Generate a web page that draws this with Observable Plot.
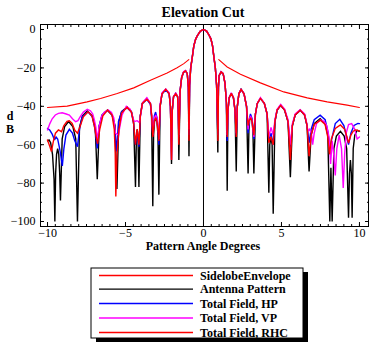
<!DOCTYPE html>
<html><head><meta charset="utf-8">
<script src="https://cdn.jsdelivr.net/npm/d3@7"></script>
<script src="https://cdn.jsdelivr.net/npm/@observablehq/plot@0.6"></script>
<style>
html,body{margin:0;padding:0;background:#fff;}
#chart{width:386px;height:355px;overflow:hidden;}
</style>
</head><body><div id="chart"></div>
<script>
// ---------- texts & ticks ----------
const chartTitle = "Elevation Cut";
const xLabel = "Pattern Angle Degrees";
const yLabelLines = ["d", "B"];
const xMajor = [-10, -5, 0, 5, 10];
const xMinor = [-10,-9.5,-9,-8.5,-8,-7.5,-7,-6.5,-6,-5.5,-5,-4.5,-4,-3.5,-3,-2.5,-2,-1.5,-1,-0.5,0,0.5,1,1.5,2,2.5,3,3.5,4,4.5,5,5.5,6,6.5,7,7.5,8,8.5,9,9.5,10];
const yMajor = [-100, -80, -60, -40, -20, 0];
const yMinor = [-100,-95,-90,-85,-80,-75,-70,-65,-60,-55,-50,-45,-40,-35,-30,-25,-20,-15,-10,-5,0];
const legendNames = ["SidelobeEnvelope", "Antenna Pattern", "Total Field, HP", "Total Field, VP", "Total Field, RHC"];
const seriesColors = ["#ff0000", "#000000", "#0000ff", "#ff00ff", "#ff0000"];

// ---------- data: [angle (deg), level (dB)] ----------
const sidelobeEnvelope = [
  [-10.0,-40.6],[-8.74,-39.9],[-7.46,-37.7],[-6.6,-35.9],[-5.53,-33.3],[-4.47,-30.4],[-3.4,-26.4],
  [-2.33,-22.6],[-1.69,-19.9],[-1.26,-17.8],[-0.94,-15.7],
  [0, NaN],
  [0.98,-15.7],[1.52,-19.5],[2.37,-23.3],[3.65,-27.8],[5.15,-32.5],[6.65,-35.6],[7.93,-37.7],
  [9.21,-39.4],[10.0,-40.6]
];

const antennaPattern = [
  [-10.0,-58],[-9.9,-57.5],[-9.8,-59],[-9.68,-65],[-9.58,-78],[-9.53,-100],
  [-9.48,-75],[-9.42,-65],[-9.35,-62],[-9.28,-65],[-9.22,-75],[-9.17,-89],
  [-9.06,-57],[-8.9,-50.5],[-8.65,-48],[-8.38,-50.5],[-8.19,-57],[-8.08,-100],
  [-7.95,-51],[-7.76,-45],[-7.45,-42.5],[-7.13,-45],[-6.94,-51],[-6.81,-78],
  [-6.68,-50],[-6.49,-44.5],[-6.17,-42],[-5.86,-44.5],[-5.67,-50],[-5.55,-83],
  [-5.43,-48],[-5.25,-42.8],[-4.9,-40.3],[-4.62,-42.8],[-4.48,-48],[-4.36,-82],
  [-4.3,-56],[-4.25,-52],[-4.2,-56],[-4.14,-82],
  [-4.05,-45],[-3.92,-38.5],[-3.63,-36],[-3.4,-38.5],[-3.33,-45],[-3.25,-92],
  [-3.2,-55],[-3.14,-48],[-3.06,-46],[-2.98,-48],[-2.92,-55],[-2.86,-86],
  [-2.78,-40],[-2.66,-33.5],[-2.42,-31.2],[-2.2,-33.5],[-2.12,-40],[-2.05,-70],
  [-2.0,-42],[-1.92,-35],[-1.78,-33.5],[-1.66,-35],[-1.62,-42],[-1.58,-68],
  [-1.5,-32],[-1.4,-25],[-1.28,-22.3],[-1.15,-21.5],[-1.04,-23],[-0.97,-30],[-0.93,-66],
  [-0.89,-29],[-0.82,-20],[-0.72,-14.5],[-0.62,-8.5],[-0.5,-5],[-0.38,-3],[-0.2,-0.8],[0,0],
  [0.2,-0.8],[0.36,-3],[0.48,-5],[0.58,-8.5],[0.67,-14.5],[0.76,-20],[0.84,-29],[0.92,-64],
  [0.96,-30],[1.0,-24],[1.13,-22.1],[1.26,-23],[1.38,-28],[1.47,-38],[1.52,-84],
  [1.57,-42],[1.65,-35.5],[1.78,-33.3],[1.92,-35.5],[2.02,-42],[2.1,-74],
  [2.17,-40],[2.27,-33.5],[2.41,-31.2],[2.6,-33.5],[2.76,-40],[2.86,-75],
  [2.91,-53],[2.96,-47],[3.03,-45],[3.1,-47],[3.17,-53],[3.23,-75],
  [3.33,-44],[3.45,-38.5],[3.65,-35.9],[3.9,-38.5],[4.08,-44],[4.19,-85],
  [4.25,-60],[4.33,-56],[4.4,-60],[4.47,-96],
  [4.58,-48],[4.72,-42],[4.95,-39.5],[5.2,-42],[5.42,-48],[5.57,-77],
  [5.7,-50],[5.88,-44.5],[6.2,-42],[6.48,-44.5],[6.64,-50],[6.77,-74],
  [6.9,-55],[7.1,-49],[7.48,-46.5],[7.8,-49],[7.97,-55],[8.1,-100],
  [8.17,-72],[8.25,-100],
  [8.36,-62],[8.52,-55.5],[8.78,-53],[9.02,-55.5],[9.18,-62],[9.3,-98],
  [9.36,-75],[9.42,-68],[9.48,-75],[9.53,-98],
  [9.6,-62],[9.7,-55],[9.85,-52.5],[10.0,-53]
];

const totalFieldHP = [
  [-10.0,-51.5],[-9.85,-52.5],[-9.7,-54.5],[-9.55,-57.5],[-9.45,-56],[-9.35,-57],[-9.2,-63],[-9.05,-71],
  [-8.95,-62],[-8.82,-55],[-8.6,-52],[-8.4,-54],[-8.25,-58],[-8.08,-61],
  [-7.95,-52],[-7.78,-45.5],[-7.4,-42.8],[-7.13,-45.5],[-6.95,-52],[-6.81,-62],
  [-6.68,-50],[-6.49,-44.5],[-6.15,-42],[-5.86,-44.5],[-5.7,-50],[-5.57,-63.5],
  [-5.45,-48],[-5.25,-42.8],[-4.9,-40.8],[-4.62,-43],[-4.48,-49],[-4.36,-60],
  [-4.25,-53],[-4.14,-61],
  [-4.05,-45],[-3.92,-38.5],[-3.63,-36.5],[-3.4,-39],[-3.32,-46],[-3.25,-55],
  [-3.15,-45],[-3.07,-43],[-2.98,-46],[-2.9,-54],[-2.86,-60],
  [-2.78,-40],[-2.66,-33.5],[-2.42,-31.5],[-2.2,-33.5],[-2.12,-40],[-2.05,-58],
  [-2.0,-42],[-1.92,-35],[-1.78,-33.3],[-1.66,-35],[-1.62,-42],[-1.58,-56],
  [-1.5,-32],[-1.4,-25],[-1.28,-22.3],[-1.15,-21.6],[-1.04,-23],[-0.97,-30],[-0.93,-55],
  [-0.89,-29],[-0.82,-20],[-0.72,-14.5],[-0.62,-8.5],[-0.5,-5],[-0.38,-3],[-0.2,-0.8],[0,0],
  [0.2,-0.8],[0.36,-3],[0.48,-5],[0.58,-8.5],[0.67,-14.5],[0.76,-20],[0.84,-29],[0.92,-55],
  [0.96,-30],[1.0,-24],[1.13,-22.1],[1.26,-23],[1.38,-28],[1.47,-38],[1.52,-58],
  [1.57,-42],[1.65,-35.5],[1.78,-33.3],[1.92,-35.5],[2.02,-42],[2.1,-55],
  [2.17,-40],[2.27,-33.5],[2.41,-31.2],[2.6,-33.5],[2.76,-40],[2.86,-54],
  [2.93,-47],[3.01,-44],[3.1,-46],[3.17,-50],[3.23,-57],
  [3.33,-44],[3.45,-38.5],[3.65,-35.9],[3.9,-38.5],[4.08,-44],[4.19,-58],
  [4.33,-54],[4.47,-60],
  [4.58,-48],[4.72,-42],[4.95,-39.5],[5.2,-42],[5.42,-48],[5.57,-62.7],
  [5.7,-50],[5.88,-44.5],[6.2,-42],[6.48,-44.5],[6.64,-50],[6.77,-59],
  [6.9,-52],[7.1,-47],[7.48,-44.6],[7.8,-47],[7.97,-53],[8.1,-61.8],
  [8.25,-56],[8.45,-49],[8.74,-46.8],[9.0,-50],[9.18,-56],[9.3,-60],
  [9.45,-54],[9.65,-50],[9.9,-48.9],[10.0,-49]
];

const totalFieldVP = [
  [-10.0,-52.3],[-9.85,-49],[-9.7,-46.5],[-9.5,-44.5],[-9.3,-43.7],[-9.06,-43.4],[-8.8,-44],[-8.6,-44.6],
  [-8.4,-46.5],[-8.2,-48],[-8.05,-47.5],[-7.9,-45.4],[-7.7,-43],[-7.45,-41.6],[-7.25,-42.3],[-7.1,-44],
  [-7.0,-47],[-6.9,-51],[-6.8,-57.5],[-6.7,-51],[-6.55,-45.5],[-6.35,-43],[-6.1,-42],[-5.9,-43.2],
  [-5.75,-46],[-5.65,-54],[-5.45,-55],[-5.35,-50],[-5.22,-44.5],[-4.95,-40],[-4.7,-41.5],[-4.55,-45],
  [-4.45,-48],[-4.25,-47.5],[-4.1,-48.5],[-4.0,-43],[-3.9,-38],[-3.63,-35.5],[-3.4,-38.5],[-3.32,-45],
  [-3.25,-55],[-3.15,-46],[-3.06,-44.5],[-2.98,-46],[-2.9,-53],[-2.86,-57],[-2.78,-39],[-2.66,-33],
  [-2.42,-31],[-2.2,-33],[-2.12,-40],[-2.05,-68],[-2.0,-42],[-1.92,-35],[-1.78,-33],[-1.66,-35],
  [-1.62,-42],[-1.58,-55],[-1.5,-32],[-1.4,-25],[-1.28,-22],[-1.15,-21.3],[-1.04,-23],[-0.97,-30],[-0.93,-52],
  [-0.89,-29],[-0.82,-20],[-0.72,-14.5],[-0.62,-8.5],[-0.5,-5],[-0.38,-3],[-0.2,-0.8],[0,0],
  [0.2,-0.8],[0.36,-3],[0.48,-5],[0.58,-8.5],[0.67,-14.5],[0.76,-20],[0.84,-29],[0.92,-52],
  [0.96,-30],[1.0,-24],[1.13,-22],[1.26,-23],[1.38,-28],[1.47,-38],[1.52,-55],[1.57,-42],[1.65,-35.5],
  [1.78,-33],[1.92,-35.5],[2.02,-42],[2.1,-54],[2.17,-40],[2.27,-33.5],[2.41,-31],[2.6,-33.5],[2.76,-40],
  [2.86,-52],[2.93,-47],[3.02,-45],[3.1,-47],[3.17,-52],[3.23,-56],[3.33,-44],[3.45,-38.5],[3.65,-35.5],
  [3.9,-38.5],[4.08,-44],[4.19,-56],[4.33,-51],[4.47,-55],[4.58,-47],[4.72,-41.5],[4.95,-39],[5.2,-41.5],
  [5.42,-47],[5.57,-60],[5.7,-49],[5.88,-44],[6.2,-41.8],[6.48,-44],[6.6,-48],[6.7,-53],[6.8,-52],
  [6.92,-54],[7.0,-60],[7.1,-54],[7.25,-49],[7.5,-47],[7.75,-48],[7.9,-50],[8.05,-56],[8.15,-70],
  [8.25,-58],[8.35,-65],[8.45,-76],[8.55,-62],[8.7,-55],[8.85,-62],[8.96,-82.5],[9.05,-65],[9.15,-54],
  [9.3,-49.5],[9.5,-49],[9.7,-52],[9.85,-57],[10.0,-56]
];

const totalFieldRHC = [
  [-10.0,-57.5],[-9.85,-61],[-9.75,-63.6],[-9.62,-58],[-9.49,-54],[-9.3,-52.3],[-9.1,-53.2],[-8.95,-50],
  [-8.75,-47.8],[-8.6,-47.5],[-8.42,-48.9],[-8.25,-52.5],[-8.08,-54],[-7.92,-50.6],[-7.7,-45.5],[-7.4,-42.8],
  [-7.15,-45],[-7.0,-50],[-6.88,-55.8],[-6.79,-59.5],[-6.65,-52],[-6.45,-45],[-6.15,-42],[-5.86,-44.6],
  [-5.72,-52],[-5.66,-64.4],[-5.62,-87],[-5.55,-66],[-5.42,-52],[-5.25,-43.5],[-4.9,-40.5],[-4.62,-43],
  [-4.48,-49],[-4.36,-60],[-4.25,-52],[-4.14,-60],[-4.05,-45],[-3.92,-38.5],[-3.63,-36.3],[-3.4,-38.5],
  [-3.32,-45],[-3.25,-56],[-3.15,-47.5],[-3.06,-46],[-2.98,-48],[-2.9,-54],[-2.86,-58],[-2.78,-40],
  [-2.66,-33.5],[-2.42,-31.2],[-2.2,-33.5],[-2.12,-40],[-2.05,-68],[-2.0,-42],[-1.92,-35],[-1.78,-33.5],
  [-1.66,-35],[-1.62,-42],[-1.58,-60],[-1.5,-32],[-1.4,-25],[-1.28,-22.3],[-1.15,-21.6],[-1.04,-23],
  [-0.97,-30],[-0.93,-58],
  [-0.89,-29],[-0.82,-20],[-0.72,-14.5],[-0.62,-8.5],[-0.5,-5],[-0.38,-3],[-0.2,-0.8],[0,0],
  [0.2,-0.8],[0.36,-3],[0.48,-5],[0.58,-8.5],[0.67,-14.5],[0.76,-20],[0.84,-29],[0.93,-58],
  [0.96,-30],[1.0,-24],[1.13,-22.1],[1.26,-23],[1.38,-28],[1.47,-38],[1.52,-56],[1.57,-42],[1.65,-35.5],
  [1.78,-33.3],[1.92,-35.5],[2.02,-42],[2.1,-56],[2.17,-40],[2.27,-33.5],[2.41,-31.2],[2.6,-33.5],
  [2.76,-40],[2.86,-50],[2.93,-47.5],[3.03,-46],[3.12,-48],[3.18,-52],[3.23,-55],[3.33,-44],[3.45,-38.5],
  [3.65,-35.9],[3.9,-38.5],[4.08,-44],[4.19,-59],[4.33,-55.8],[4.47,-60],[4.58,-48],[4.72,-42],[4.95,-39.5],
  [5.2,-42],[5.42,-48],[5.57,-68],[5.7,-50],[5.88,-44.5],[6.2,-42],[6.48,-44.5],[6.64,-50],[6.77,-66],
  [6.9,-55],[7.1,-49.5],[7.5,-47.2],[7.8,-49.5],[7.97,-56],[8.08,-65],[8.2,-57],[8.45,-51.5],[8.78,-49.7],
  [9.05,-52],[9.2,-56],[9.3,-59.2],[9.45,-55],[9.6,-53],[9.75,-52.3],[9.9,-52.5],[10.0,-53]
];

const seriesData = [sidelobeEnvelope, antennaPattern, totalFieldHP, totalFieldVP, totalFieldRHC];

// ---------- chart ----------
const serif = "'Liberation Serif', 'Times New Roman', serif";
const lineMark = (data, color, w) =>
  Plot.line(data, {x: d => d[0], y: d => d[1], stroke: color, strokeWidth: w, strokeLinejoin: "miter", strokeMiterlimit: 2});

const chart = Plot.plot({
  width: 386,
  height: 355,
  marginLeft: 40,
  marginRight: 18,
  marginTop: 24,
  marginBottom: 129,
  x: {domain: [-10.45, 10.58]},
  y: {domain: [-102.6, 2.6]},
  style: {background: "white", fontFamily: serif, fontSize: "12px", color: "black", overflow: "visible"},
  marks: [
    Plot.ruleX([0], {stroke: "black", strokeWidth: 1}),
    lineMark(seriesData[0], seriesColors[0], 1.1),
    lineMark(seriesData[1], seriesColors[1], 1.4),
    lineMark(seriesData[2], seriesColors[2], 1.4),
    lineMark(seriesData[3], seriesColors[3], 1.4),
    lineMark(seriesData[4], seriesColors[4], 1.4),
    Plot.frame({stroke: "black", strokeWidth: 1}),
    Plot.axisY({anchor: "left", ticks: yMajor, tickSize: 0, tickPadding: 5, label: null, fontSize: 12}),
    Plot.axisY({anchor: "left", ticks: yMajor, tickSize: 4, dx: 4, fill: "none", label: null}),
    Plot.axisY({anchor: "left", ticks: yMinor, tickSize: 2, dx: 2, fill: "none", label: null}),
    Plot.axisY({anchor: "right", ticks: yMajor, tickSize: 4, dx: -4, fill: "none", label: null}),
    Plot.axisY({anchor: "right", ticks: yMinor, tickSize: 2, dx: -2, fill: "none", label: null}),
    Plot.axisX({anchor: "bottom", ticks: xMajor, tickSize: 0, tickPadding: 2, label: null, fontSize: 12}),
    Plot.axisX({anchor: "bottom", ticks: xMajor, tickSize: 4, dy: -4, fill: "none", label: null}),
    Plot.axisX({anchor: "bottom", ticks: xMinor, tickSize: 2, dy: -2, fill: "none", label: null}),
    Plot.axisX({anchor: "top", ticks: xMajor, tickSize: 4, dy: 4, fill: "none", label: null}),
    Plot.axisX({anchor: "top", ticks: xMinor, tickSize: 2, dy: 2, fill: "none", label: null})
  ]
});

document.getElementById("chart").appendChild(chart);

// ---------- title, axis labels, legend ----------
const svg = d3.select(chart);
const xs = chart.scale("x");
const cx = xs.apply(0);

const addText = (sel, t, x, y, size, anchor) =>
  sel.append("text").text(t)
    .attr("x", x).attr("y", y).attr("text-anchor", anchor)
    .attr("font-family", serif).attr("font-weight", "bold").attr("font-size", size).attr("fill", "black");

addText(svg, chartTitle, cx, 17, 14, "middle");
addText(svg, xLabel, cx, 250, 12, "middle");
yLabelLines.forEach((t, i) => addText(svg, t, 10, 119.5 + i * 13.5, 12, "middle"));

const lg = svg.append("g");
const box = {x: 91, y: 268, w: 212, h: 70};
lg.append("rect").attr("x", box.x + 5).attr("y", box.y + 4).attr("width", box.w).attr("height", box.h).attr("fill", "black");
lg.append("rect").attr("x", box.x).attr("y", box.y).attr("width", box.w).attr("height", box.h)
  .attr("fill", "white").attr("stroke", "black").attr("stroke-width", 1);
const rowY = [275.5, 289.2, 303.5, 318, 332.5];
legendNames.forEach((name, i) => {
  lg.append("line").attr("x1", 99).attr("x2", 193).attr("y1", rowY[i]).attr("y2", rowY[i])
    .attr("stroke", seriesColors[i]).attr("stroke-width", 1.3);
  addText(lg, name, 200, rowY[i] + 4, 12, "start");
});
</script>
</body></html>
